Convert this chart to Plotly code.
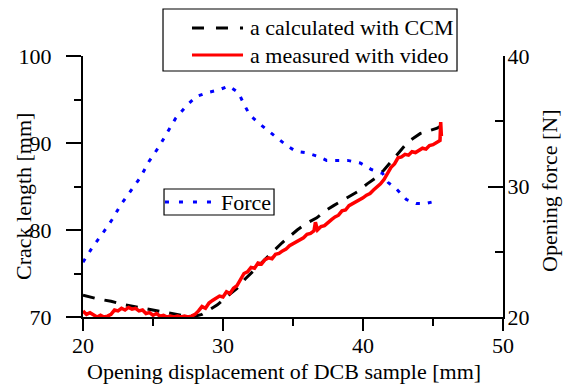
import plotly.graph_objects as go

# Crack length from the compliance calibration method (CCM)
ccm_disp = [20.0, 21.0, 22.0, 23.0, 24.0, 25.0, 26.0, 27.0, 28.0, 28.5, 29.0, 29.6,
            30.3, 31.0, 31.6, 32.3, 33.1, 34.2, 35.3, 36.0, 36.7, 37.3, 37.9, 39.0,
            39.6, 40.3, 41.0, 41.5, 42.1, 42.7, 43.2, 44.1, 44.8, 45.3, 45.6]
ccm_crack = [72.5, 72.1, 71.8, 71.4, 71.1, 70.8, 70.5, 70.2, 70.1, 70.3, 70.8, 71.4,
             72.4, 73.3, 74.4, 75.5, 76.7, 78.5, 80.0, 80.8, 81.4, 82.2, 82.8, 83.8,
             84.4, 85.3, 86.1, 86.9, 88.0, 89.2, 90.1, 91.1, 91.4, 91.7, 92.0]

# Crack length measured on the video recording
video_disp = [20.00, 20.25, 20.50, 20.75, 21.00, 21.25, 21.50, 21.75, 22.00, 22.25,
              22.50, 22.75, 23.00, 23.25, 23.50, 23.75, 24.00, 24.25, 24.50, 24.75,
              25.00, 25.25, 25.50, 25.75, 26.00, 26.25, 26.50, 26.75, 27.00, 27.25,
              27.50, 27.75, 28.00, 28.25, 28.50, 28.75, 29.00, 29.25, 29.50, 29.75,
              30.00, 30.25, 30.50, 30.75, 31.00, 31.25, 31.50, 31.75, 32.00, 32.25,
              32.50, 32.75, 33.00, 33.25, 33.50, 33.75, 34.00, 34.25, 34.50, 34.75,
              35.00, 35.25, 35.50, 35.75, 36.00, 36.25, 36.50, 36.60, 36.75, 37.00,
              37.25, 37.50, 37.75, 38.00, 38.25, 38.50, 38.75, 39.00, 39.25, 39.50,
              39.75, 40.00, 40.25, 40.50, 40.75, 41.00, 41.25, 41.50, 41.75, 42.00,
              42.25, 42.50, 42.75, 43.00, 43.25, 43.50, 43.75, 44.00, 44.25, 44.50,
              44.75, 45.00, 45.25, 45.50, 45.55, 45.60]
video_crack = [70.7, 70.3, 70.5, 70.2, 70.0, 70.2, 70.0, 70.1, 70.3, 70.8,
               70.7, 71.0, 70.8, 71.1, 70.9, 71.0, 70.7, 70.8, 70.4, 70.5,
               70.2, 70.4, 70.1, 70.2, 70.0, 70.1, 70.0, 70.1, 70.0, 70.1,
               70.0, 70.1, 70.3, 70.7, 71.2, 71.0, 71.6, 71.9, 72.1, 72.4,
               72.3, 72.9, 72.7, 73.3, 73.6, 74.3, 75.0, 75.2, 75.7, 75.6,
               76.2, 76.1, 76.6, 76.8, 76.7, 77.2, 77.3, 77.6, 77.8, 78.2,
               78.4, 78.6, 78.9, 79.1, 79.5, 79.6, 79.9, 80.9, 80.0, 80.4,
               80.5, 80.9, 81.2, 81.5, 81.7, 82.2, 82.3, 82.8, 83.0, 83.3,
               83.4, 83.7, 84.0, 84.2, 84.6, 84.9, 85.3, 85.8, 86.6, 87.2,
               87.6, 88.3, 88.4, 88.7, 88.6, 89.0, 88.9, 89.2, 89.4, 89.3,
               89.7, 89.8, 90.1, 90.3, 92.4, 90.8]

# Opening force recorded by the testing machine
force_disp = [20.0, 20.65, 21.4, 22.1, 22.7, 23.4, 24.1, 24.7, 25.4, 26.0, 26.6,
              27.4, 28.1, 28.9, 29.7, 30.4, 31.1, 31.5, 31.9, 32.5, 33.3, 34.0,
              34.6, 35.2, 35.9, 36.8, 37.4, 38.2, 38.9, 39.8, 40.6, 41.4, 41.8,
              42.4, 43.1, 43.8, 44.5, 44.9]
force_n = [24.2, 25.3, 26.4, 27.5, 28.6, 29.7, 30.7, 31.9, 33.0, 34.1, 35.2,
           36.2, 36.9, 37.2, 37.4, 37.7, 37.2, 36.3, 35.5, 34.9, 34.2, 33.6,
           33.1, 32.7, 32.6, 32.3, 32.0, 32.0, 32.0, 31.8, 31.3, 31.0, 30.3,
           29.8, 29.0, 28.7, 28.7, 28.8]

FONT = "Liberation Serif"
FS = 22
BLACK, RED, BLUE = "#000000", "#ff0000", "#0000ff"
CCM_DASH = "12px,10px"
FORCE_DOT = "4px,8px"

fig = go.Figure()
fig.add_trace(go.Scatter(
    x=ccm_disp, y=ccm_crack, mode="lines", name="a calculated with CCM",
    line=dict(color=BLACK, width=3, dash=CCM_DASH)))
fig.add_trace(go.Scatter(
    x=video_disp, y=video_crack, mode="lines", name="a measured with video",
    line=dict(color=RED, width=3.5)))
fig.add_trace(go.Scatter(
    x=force_disp, y=force_n, mode="lines", name="Force", yaxis="y2",
    line=dict(color=BLUE, width=3, dash=FORCE_DOT)))

axis_common = dict(
    showgrid=False, zeroline=False, showline=True, linecolor=BLACK,
    linewidth=2, tickcolor=BLACK, tickwidth=2, automargin=False,
    tickfont=dict(family=FONT, size=FS, color=BLACK),
)
minor_out = dict(dtick=5, ticks="outside", ticklen=7, tickwidth=2, tickcolor=BLACK)
minor_in = dict(dtick=5, ticks="inside", ticklen=8, tickwidth=2, tickcolor=BLACK)

fig.update_layout(
    width=570, height=385,
    margin=dict(l=83, r=67, t=56, b=68),
    paper_bgcolor="white", plot_bgcolor="white",
    font=dict(family=FONT, size=FS, color=BLACK),
    showlegend=False,
    xaxis=dict(range=[20, 50], dtick=10, ticks="outside", ticklen=12,
               minor=minor_out, ticklabelstandoff=-4, **axis_common),
    yaxis=dict(range=[70, 100], dtick=10, ticks="outside", ticklen=15,
               minor=minor_out, ticklabelstandoff=10, **axis_common),
    yaxis2=dict(range=[20, 40], dtick=10, ticks="inside", ticklen=15,
                overlaying="y", side="right", minor=minor_in,
                ticklabelstandoff=-2, **axis_common),
)

# Axis titles
title_font = dict(family=FONT, size=FS, color=BLACK)
fig.add_annotation(text="Opening displacement of DCB sample [mm]", xref="paper",
                   yref="paper", x=0.4786, y=-0.2107, xanchor="center",
                   yanchor="middle", showarrow=False, font=title_font)
fig.add_annotation(text="Crack length [mm]", xref="paper", yref="paper",
                   x=-0.1429, y=0.4636, xanchor="center", yanchor="middle",
                   textangle=-90, showarrow=False, font=title_font)
fig.add_annotation(text="Opening force [N]", xref="paper", yref="paper",
                   x=1.1119, y=0.4866, xanchor="center", yanchor="middle",
                   textangle=-90, showarrow=False, font=title_font)

# Legend for the crack-length curves
fig.add_shape(type="rect", xref="paper", yref="paper", x0=0.1905, x1=0.8905,
              y0=0.9425, y1=1.1801, line=dict(color=BLACK, width=1.2),
              fillcolor="white", layer="above")
legend_rows = [("a calculated with CCM", BLACK, "12px,12px", 1.1073),
               ("a measured with video", RED, "solid", 1.0038)]
for label, color, dash, yrow in legend_rows:
    fig.add_shape(type="line", xref="paper", yref="paper", x0=0.2595, x1=0.3810,
                  y0=yrow, y1=yrow, line=dict(color=color, width=3, dash=dash),
                  layer="above")
    fig.add_annotation(text=label, xref="paper", yref="paper", x=0.3929, y=yrow,
                       xanchor="left", yanchor="middle", showarrow=False,
                       font=title_font)

# Legend for the force curve
fig.add_shape(type="rect", xref="paper", yref="paper", x0=0.1929, x1=0.4548,
              y0=0.3908, y1=0.4904, line=dict(color=BLACK, width=1.2),
              fillcolor="white", layer="above")
fig.add_shape(type="line", xref="paper", yref="paper", x0=0.1952, x1=0.3071,
              y0=0.4406, y1=0.4406, line=dict(color=BLUE, width=3, dash="4px,10px"),
              layer="above")
fig.add_annotation(text="Force", xref="paper", yref="paper", x=0.3238, y=0.4406,
                   xanchor="left", yanchor="middle", showarrow=False,
                   font=title_font)

fig.write_html("out.html")
